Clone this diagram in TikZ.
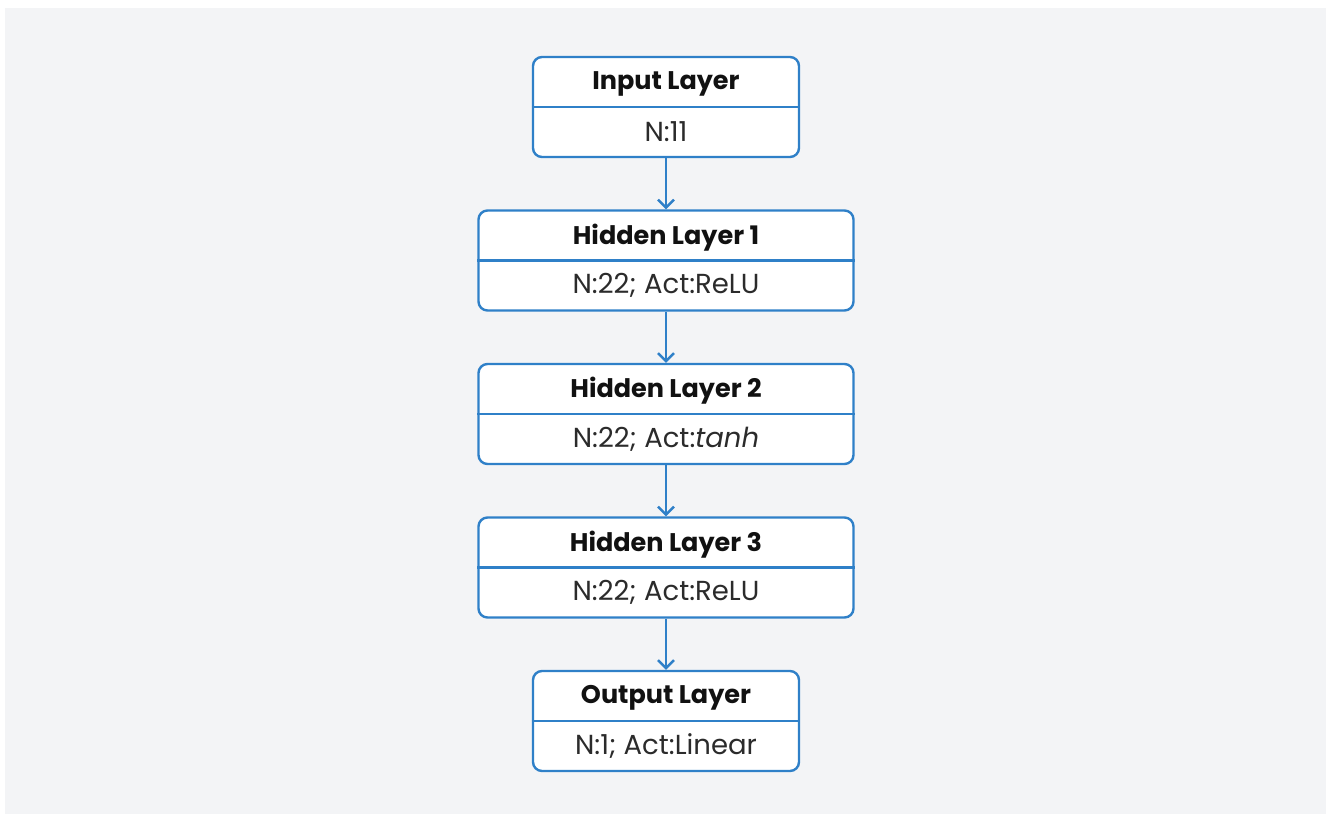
\documentclass[tikz,border=0pt]{standalone}
\usepackage{fontspec}
\setmainfont{Poppins}
\usetikzlibrary{arrows.meta}
\definecolor{bg}{HTML}{F3F4F6}
\definecolor{edge}{HTML}{2F80C8}
\definecolor{ttl}{HTML}{111111}
\definecolor{bdy}{HTML}{2B2B2B}
\begin{document}
\begin{tikzpicture}[x=1pt,y=-1pt,
 layer/.style={draw=edge, line width=2.4pt, rounded corners=9pt, fill=white, minimum height=100pt, inner sep=0pt},
 narrow/.style={layer, minimum width=266pt},
 wide/.style={layer, minimum width=375pt},
 title/.style={font=\bfseries\fontsize{25.5}{29}\selectfont, text=ttl, inner sep=0pt},
 body/.style={font=\fontsize{27.5}{31}\selectfont, text=bdy, inner sep=0pt},
 divider/.style={draw=edge, line width=2.4pt},
 conn/.style={draw=edge, line width=2.4pt, -{Straight Barb[length=8pt,width=16pt]}}]
\useasboundingbox (0,0) rectangle (1328,814);
\fill[white] (0,0) rectangle (1328,814);
\fill[bg] (5,8) rectangle (1326,814);

\node[narrow] (in) at (666,107) {};
\node[wide] (h1) at (666,260.5) {};
\node[wide] (h2) at (666,414) {};
\node[wide] (h3) at (666,567.5) {};
\node[narrow] (out) at (666,721) {};

\foreach \n in {in,h1,h2,h3,out}{
  \draw[divider] (\n.west) -- (\n.east);
}

\node[title] (inT) at ([yshift=23pt]in.center) {Input Layer};
\node[body] (inB) at ([yshift=-25pt]in.center) {N:11};
\node[title] (h1T) at ([yshift=23pt]h1.center) {Hidden Layer 1};
\node[body] (h1B) at ([yshift=-25pt]h1.center) {N:22; Act:ReLU};
\node[title] (h2T) at ([yshift=23pt]h2.center) {Hidden Layer 2};
\node[body] (h2B) at ([yshift=-25pt]h2.center) {N:22; Act:\textit{tanh}};
\node[title] (h3T) at ([yshift=23pt]h3.center) {Hidden Layer 3};
\node[body] (h3B) at ([yshift=-25pt]h3.center) {N:22; Act:ReLU};
\node[title] (outT) at ([yshift=23pt]out.center) {Output Layer};
\node[body] (outB) at ([yshift=-25pt]out.center) {N:1; Act:Linear};

\draw[conn] (in.south) -- (h1.north);
\draw[conn] (h1.south) -- (h2.north);
\draw[conn] (h2.south) -- (h3.north);
\draw[conn] (h3.south) -- (out.north);
\end{tikzpicture}
\end{document}
